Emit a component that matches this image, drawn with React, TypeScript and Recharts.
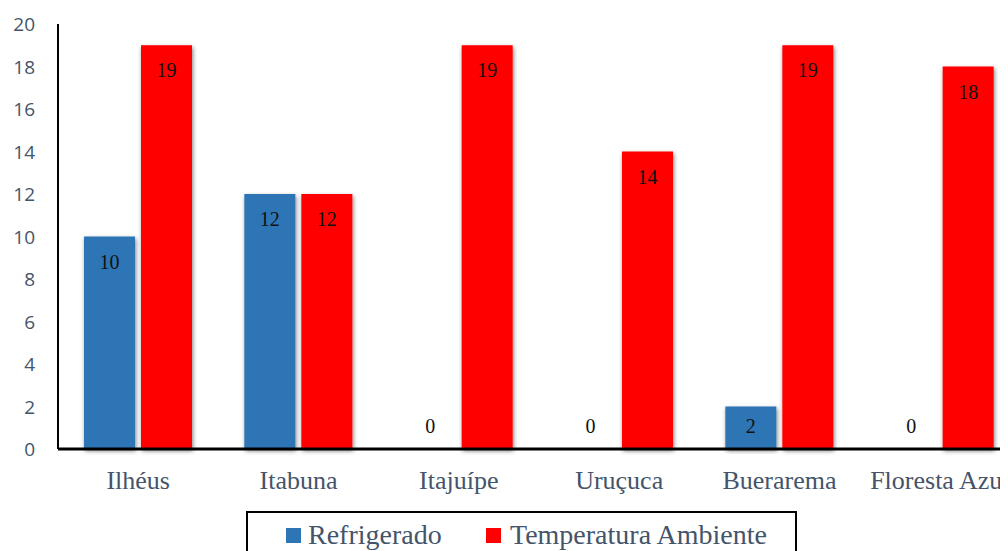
import React from 'react';
import { BarChart, Bar, XAxis, YAxis, LabelList } from 'recharts';

const categories = ['Ilhéus', 'Itabuna', 'Itajuípe', 'Uruçuca', 'Buerarema', 'Floresta Azul'];
const refrigerado = [10, 12, 0, 0, 2, 0];
const temperaturaAmbiente = [19, 12, 19, 14, 19, 18];
const yTicks = [0, 2, 4, 6, 8, 10, 12, 14, 16, 18, 20];
const seriesNames = ['Refrigerado', 'Temperatura Ambiente'];

const data = categories.map((c, i) => ({
  name: c,
  refrigerado: refrigerado[i],
  ambiente: temperaturaAmbiente[i],
}));

const BLUE = '#2E75B6';
const RED = '#FF0000';
const TEXT = '#44546A';
const SERIF = '"Liberation Serif", "Times New Roman", serif';

const ShadowBar = (props: any) => {
  const { x, y, width, height, fill } = props;
  if (!height || height <= 0) return null;
  return <rect x={x} y={y} width={width} height={height} fill={fill} filter="url(#barShadow)" />;
};

const BarLabel = (props: any) => {
  const { x, y, width, height, value } = props;
  const base = y + height;
  const cy = Math.min(y + 25, base - 23);
  return (
    <text x={x + width / 2} y={cy + 7} textAnchor="middle" fontFamily={SERIF} fontSize={20} fill="#111">
      {value}
    </text>
  );
};

const XTick = (props: any) => {
  const { x, y, payload } = props;
  return (
    <text x={x} y={y + 40} textAnchor="middle" fontFamily={SERIF} fontSize={26} fill={TEXT}>
      {payload.value}
    </text>
  );
};

const YTick = (props: any) => {
  const { x, y, payload } = props;
  return (
    <text x={x - 23} y={y + 7} textAnchor="end" fontFamily='"Open Sans", sans-serif' fontSize={19} fill={TEXT}>
      {payload.value}
    </text>
  );
};

export default function App() {
  return (
    <div style={{ position: 'relative', width: 1000, height: 543, overflow: 'hidden' }}>
      <svg width={0} height={0} style={{ position: 'absolute' }}>
        <defs>
          <filter id="barShadow" x="-30%" y="-10%" width="160%" height="120%">
            <feDropShadow dx="1" dy="2" stdDeviation="2.2" floodColor="#000" floodOpacity="0.5" />
          </filter>
        </defs>
      </svg>
      <BarChart
        width={1020}
        height={560}
        data={data}
        margin={{ top: 16, right: 8, bottom: 69, left: 0 }}
        barSize={51}
        barGap={6}
      >
        <XAxis
          dataKey="name"
          height={50}
          interval={0}
          tickLine={false}
          tickSize={0}
          tickMargin={0}
          axisLine={{ stroke: '#000', strokeWidth: 3 }}
          tick={<XTick />}
        />
        <YAxis
          width={50}
          domain={[0, 20]}
          ticks={yTicks}
          tickLine={false}
          tickSize={0}
          tickMargin={0}
          axisLine={{ stroke: '#000', strokeWidth: 2 }}
          tick={<YTick />}
        />
        <Bar dataKey="refrigerado" name={seriesNames[0]} fill={BLUE} shape={<ShadowBar />} isAnimationActive={false}>
          <LabelList dataKey="refrigerado" content={<BarLabel />} />
        </Bar>
        <Bar dataKey="ambiente" name={seriesNames[1]} fill={RED} shape={<ShadowBar />} isAnimationActive={false}>
          <LabelList dataKey="ambiente" content={<BarLabel />} />
        </Bar>
      </BarChart>
      <div
        style={{
          position: 'absolute',
          left: 238,
          top: 503,
          width: 551,
          height: 70,
          border: '2px solid #000',
          boxSizing: 'border-box',
          fontFamily: SERIF,
          fontSize: 28,
          lineHeight: '28px',
          color: TEXT,
        }}
      >
        <div style={{ position: 'absolute', left: 38, top: 15, width: 15, height: 15, background: BLUE }} />
        <div style={{ position: 'absolute', left: 60, top: 8, whiteSpace: 'nowrap' }}>{seriesNames[0]}</div>
        <div style={{ position: 'absolute', left: 238, top: 15, width: 15, height: 15, background: RED }} />
        <div style={{ position: 'absolute', left: 262, top: 8, whiteSpace: 'nowrap' }}>{seriesNames[1]}</div>
      </div>
    </div>
  );
}
